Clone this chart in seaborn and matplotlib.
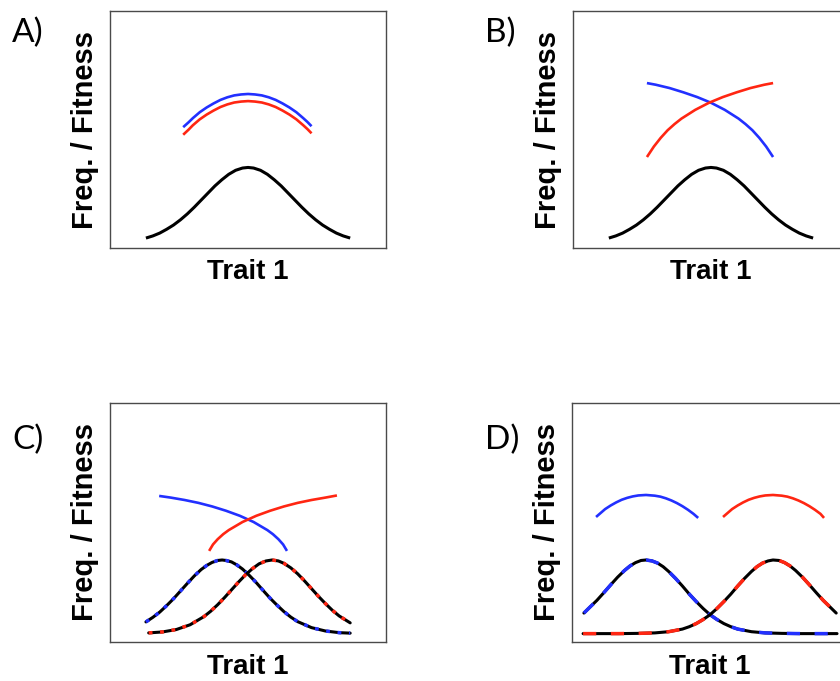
import matplotlib
matplotlib.use("Agg")
import matplotlib.pyplot as plt
import seaborn as sns

# --- values (axes scaled 0..1 on both directions) ---

# single population distribution (panels A and B)
freq_x = [0.13, 0.155, 0.18, 0.205, 0.23, 0.255, 0.28, 0.305, 0.33, 0.355, 0.38,
          0.405, 0.43, 0.455, 0.48, 0.50, 0.52, 0.545, 0.57, 0.595, 0.62,
          0.645, 0.67, 0.695, 0.72, 0.745, 0.77, 0.795, 0.82, 0.845, 0.87]
freq_y = [0.042, 0.051, 0.063, 0.079, 0.097, 0.119, 0.144, 0.172, 0.202, 0.232, 0.262,
          0.288, 0.311, 0.328, 0.3375, 0.340, 0.3375, 0.328, 0.311, 0.288, 0.262,
          0.232, 0.202, 0.172, 0.144, 0.119, 0.097, 0.079, 0.063, 0.051, 0.042]

# A) fitness arcs, nearly equal
a_fit_x = [0.265, 0.285, 0.30, 0.325, 0.35, 0.375, 0.40, 0.425, 0.45, 0.475, 0.50,
           0.525, 0.55, 0.575, 0.60, 0.625, 0.65, 0.675, 0.70, 0.715, 0.73]
a_blue_y = [0.510, 0.531, 0.548, 0.573, 0.593, 0.610, 0.625, 0.636, 0.644, 0.648, 0.650,
            0.648, 0.644, 0.636, 0.625, 0.610, 0.593, 0.573, 0.548, 0.532, 0.514]
a_red_y = [0.478, 0.500, 0.518, 0.543, 0.563, 0.580, 0.595, 0.606, 0.614, 0.618, 0.620,
           0.618, 0.614, 0.606, 0.595, 0.580, 0.563, 0.543, 0.518, 0.502, 0.484]

# B) crossing fitness curves
b_blue_x = [0.268, 0.30, 0.35, 0.40, 0.45, 0.50, 0.55, 0.60, 0.625, 0.65, 0.675, 0.70, 0.725]
b_blue_y = [0.696, 0.689, 0.675, 0.657, 0.637, 0.613, 0.583, 0.546, 0.523, 0.497, 0.465, 0.428, 0.384]
b_red_x = [0.268, 0.293, 0.318, 0.343, 0.368, 0.393, 0.443, 0.493, 0.543, 0.593, 0.643, 0.693, 0.725]
b_red_y = [0.384, 0.428, 0.465, 0.497, 0.523, 0.546, 0.583, 0.613, 0.637, 0.657, 0.675, 0.689, 0.696]

# C) crossing fitness curves and two overlapping distributions
c_blue_x = [0.178, 0.22, 0.27, 0.32, 0.37, 0.42, 0.47, 0.52, 0.57, 0.59, 0.61, 0.627, 0.641]
c_blue_y = [0.611, 0.604, 0.594, 0.582, 0.567, 0.549, 0.528, 0.502, 0.468, 0.451, 0.430, 0.408, 0.381]
c_red_x = [0.359, 0.373, 0.39, 0.41, 0.43, 0.48, 0.53, 0.58, 0.63, 0.68, 0.73, 0.78, 0.822]
c_red_y = [0.381, 0.408, 0.430, 0.451, 0.468, 0.502, 0.528, 0.549, 0.567, 0.582, 0.594, 0.604, 0.613]
c_blue_freq_x = [0.13, 0.155, 0.18, 0.205, 0.23, 0.255, 0.28, 0.305, 0.33, 0.35, 0.37, 0.39,
                 0.406, 0.42, 0.44, 0.46, 0.48, 0.505, 0.53, 0.555, 0.58, 0.605, 0.63,
                 0.655, 0.68, 0.73, 0.78, 0.83, 0.87]
c_blue_freq_y = [0.084, 0.103, 0.125, 0.152, 0.181, 0.213, 0.245, 0.276, 0.303, 0.320, 0.333, 0.341,
                 0.343, 0.341, 0.335, 0.322, 0.305, 0.278, 0.248, 0.215, 0.183, 0.154, 0.127,
                 0.104, 0.085, 0.060, 0.046, 0.039, 0.037]
c_red_freq_x = [0.14, 0.19, 0.24, 0.29, 0.34, 0.365, 0.39, 0.415, 0.44, 0.465, 0.49, 0.515, 0.54,
                0.565, 0.587, 0.61, 0.63, 0.655, 0.68, 0.705, 0.73, 0.755, 0.78, 0.805, 0.83, 0.87]
c_red_freq_y = [0.038, 0.042, 0.052, 0.072, 0.106, 0.129, 0.156, 0.186, 0.218, 0.250, 0.280, 0.306, 0.327,
                0.339, 0.343, 0.339, 0.329, 0.310, 0.285, 0.255, 0.223, 0.191, 0.161, 0.133, 0.109, 0.080]

# D) separate fitness peaks and separated distributions
d_blue_x = [0.087, 0.105, 0.12, 0.14, 0.16, 0.18, 0.20, 0.22, 0.24, 0.268, 0.30, 0.32,
            0.34, 0.36, 0.38, 0.40, 0.42, 0.44, 0.457]
d_red_x = [0.547, 0.565, 0.58, 0.60, 0.62, 0.64, 0.66, 0.68, 0.70, 0.728, 0.76, 0.78,
           0.80, 0.82, 0.84, 0.86, 0.88, 0.90, 0.913]
d_fit_y = [0.523, 0.541, 0.556, 0.571, 0.584, 0.595, 0.603, 0.609, 0.613, 0.615, 0.612, 0.608,
           0.601, 0.592, 0.581, 0.568, 0.553, 0.536, 0.519]
d_blue_freq_x = [0.043, 0.065, 0.09, 0.115, 0.14, 0.165, 0.19, 0.21, 0.23, 0.25, 0.268, 0.29,
                 0.31, 0.33, 0.35, 0.375, 0.40, 0.425, 0.45, 0.475, 0.50, 0.525, 0.55,
                 0.575, 0.60, 0.65, 0.70, 0.76, 0.83, 0.90, 0.96]
d_blue_freq_y = [0.121, 0.146, 0.174, 0.206, 0.239, 0.271, 0.299, 0.318, 0.332, 0.341, 0.343, 0.339,
                 0.330, 0.315, 0.295, 0.266, 0.234, 0.200, 0.169, 0.140, 0.114, 0.094, 0.077,
                 0.064, 0.054, 0.043, 0.038, 0.036, 0.035, 0.035, 0.035]
d_red_freq_x = [0.04, 0.10, 0.17, 0.24, 0.30, 0.35, 0.40, 0.425, 0.45, 0.475, 0.50, 0.525, 0.55,
                0.575, 0.60, 0.625, 0.65, 0.67, 0.69, 0.71, 0.728, 0.75, 0.77, 0.79, 0.81,
                0.835, 0.86, 0.885, 0.91, 0.935, 0.957]
d_red_freq_y = [0.035, 0.035, 0.035, 0.036, 0.038, 0.043, 0.054, 0.064, 0.077, 0.094, 0.114, 0.140, 0.169,
                0.200, 0.234, 0.266, 0.295, 0.315, 0.330, 0.339, 0.343, 0.341, 0.332, 0.318, 0.299,
                0.271, 0.239, 0.206, 0.174, 0.146, 0.121]

panel_labels = ["A)", "B)", "C)", "D)"]
xlabel_text = "Trait 1"
ylabel_text = "Freq. / Fitness"

BLUE = "#2230ff"
RED = "#ff2612"
LW = 2.2

sns.set_style("white")
plt.rcParams["font.family"] = ["Liberation Sans", "DejaVu Sans"]
plt.rcParams["text.color"] = "black"
plt.rcParams["axes.labelcolor"] = "black"

fig = plt.figure(figsize=(8.4, 6.81), dpi=100)
ax_a = fig.add_axes([0.1310, 0.6358, 0.3286, 0.3480])
ax_b = fig.add_axes([0.6821, 0.6358, 0.3286, 0.3480])
ax_c = fig.add_axes([0.1310, 0.0573, 0.3286, 0.3510])
ax_d = fig.add_axes([0.6810, 0.0573, 0.3286, 0.3510])


def solid(ax, x, y, color, lw=LW):
    sns.lineplot(x=x, y=y, color=color, linewidth=lw, ax=ax,
                 solid_capstyle="butt")


def striped(ax, x, y, color, pattern):
    # black line underneath, coloured dashes on top
    sns.lineplot(x=x, y=y, color="black", linewidth=LW, ax=ax)
    sns.lineplot(x=x, y=y, color=color, linewidth=2.5, ax=ax,
                 linestyle=(0, pattern), dash_capstyle="butt")


# A
solid(ax_a, a_fit_x, a_blue_y, BLUE, 1.9)
solid(ax_a, a_fit_x, a_red_y, RED, 1.9)
solid(ax_a, freq_x, freq_y, "black")

# B
solid(ax_b, b_blue_x, b_blue_y, BLUE, 1.9)
solid(ax_b, b_red_x, b_red_y, RED, 1.9)
solid(ax_b, freq_x, freq_y, "black")

# C
solid(ax_c, c_blue_x, c_blue_y, BLUE, 1.9)
solid(ax_c, c_red_x, c_red_y, RED, 1.9)
striped(ax_c, c_blue_freq_x, c_blue_freq_y, BLUE, (1.1, 2.2))
striped(ax_c, c_red_freq_x, c_red_freq_y, RED, (1.1, 2.2))

# D
solid(ax_d, d_blue_x, d_fit_y, BLUE, 1.9)
solid(ax_d, d_red_x, d_fit_y, RED, 1.9)
striped(ax_d, d_blue_freq_x, d_blue_freq_y, BLUE, (3.8, 4.2))
striped(ax_d, d_red_freq_x, d_red_freq_y, RED, (3.8, 4.2))

for ax, lab in zip([ax_a, ax_b, ax_c, ax_d], panel_labels):
    ax.set_xlim(0, 1)
    ax.set_ylim(0, 1)
    ax.set_xticks([])
    ax.set_yticks([])
    for sp in ax.spines.values():
        sp.set_color("#4a4a4a")
        sp.set_linewidth(1.0)
    ax.set_xlabel(xlabel_text, fontsize=20, fontweight="bold", va="center")
    ax.set_ylabel(ylabel_text, fontsize=21, fontweight="bold", va="center")
    ax.xaxis.set_label_coords(0.5, -0.103)
    ax.yaxis.set_label_coords(-0.091, 0.5)

letter_font = ["Lato", "DejaVu Sans"]
fig.text(12 / 840, 1 - 33 / 681, panel_labels[0], fontsize=24, family=letter_font, va="center")
fig.text(485 / 840, 1 - 33 / 681, panel_labels[1], fontsize=24, family=letter_font, va="center")
fig.text(12 / 840, 1 - 440 / 681, panel_labels[2], fontsize=24, family=letter_font, va="center")
fig.text(485 / 840, 1 - 440 / 681, panel_labels[3], fontsize=24, family=letter_font, va="center")

fig.savefig("out.png", dpi=100, facecolor="white")
